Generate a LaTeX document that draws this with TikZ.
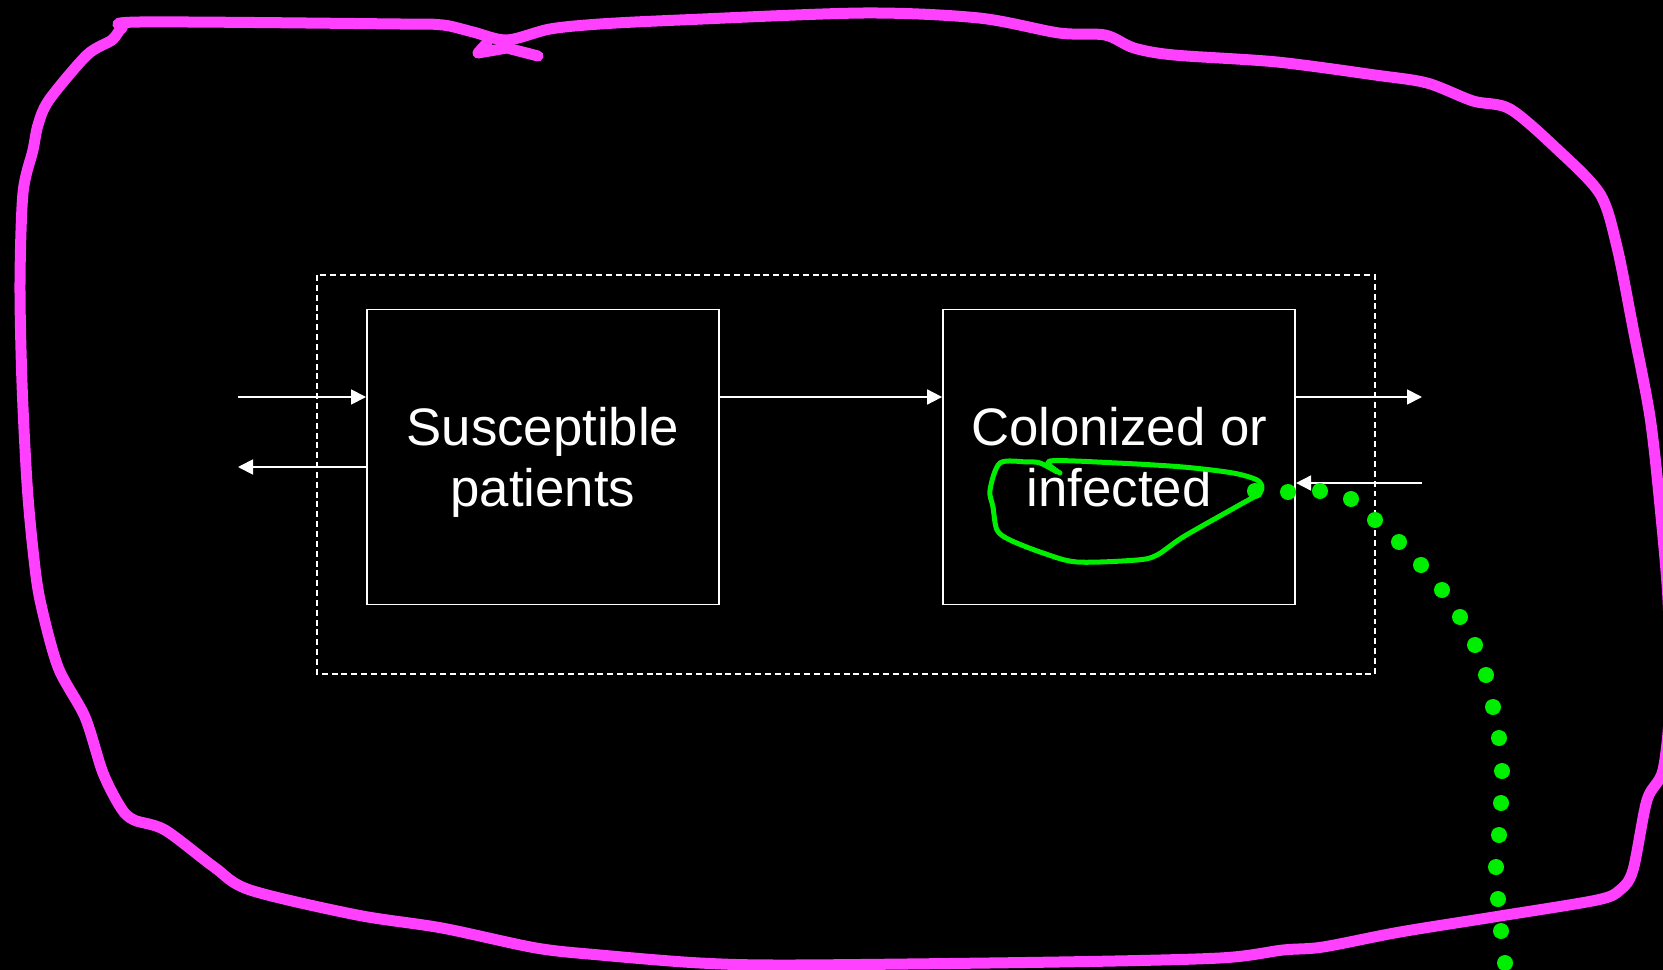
\documentclass[tikz,border=0pt]{standalone}
\usepackage{fontspec}
\setmainfont{Liberation Sans}
\usetikzlibrary{arrows.meta,positioning}
\definecolor{penpink}{RGB}{255,64,255}
\definecolor{pengreen}{RGB}{0,238,0}

\begin{document}
\begin{tikzpicture}[
        x=0.01cm, y=-0.01cm,
        box/.style={draw=white, line width=0.5pt, fill=black, text=white,
            align=center, inner sep=0pt, text depth=0pt,
            minimum width=3.52cm, minimum height=2.95cm,
            font=\fontsize{15}{17.5}\selectfont},
        flow/.style={draw=white, line width=0.5pt,
            -{Triangle[length=0.15cm,width=0.15cm]}},
        groupbox/.style={draw=white, line width=0.55pt,
            dash pattern=on 1.7pt off 1.1pt},
        pen/.style={draw=penpink, line width=0.11cm, line join=round, line cap=round},
        hilite/.style={draw=pengreen, line width=0.05cm, line join=round, line cap=round},
    ]
  \fill[black] (0,0) rectangle (1663,970);
  \useasboundingbox (0,0) rectangle (1663,970);

  \draw[groupbox] (317,275) rectangle (1375,674);
  \node[box] (sus) at (543,457) {Susceptible\\patients};
  \node[box, right=2.22cm of sus] (col) {Colonized or\\infected};

  \coordinate (inL) at (238,397);
  \coordinate (outL) at (238,467);
  \coordinate (outR) at (1422,397);
  \coordinate (inR) at (1422,483);

  \draw[flow] (inL) -- (inL -| sus.west);
  \draw[flow] (outL -| sus.west) -- (outL);
  \draw[flow] (inL -| sus.east) -- (inL -| col.west);
  \draw[flow] (outR -| col.east) -- (outR);
  \draw[flow] (inR) -- (inR -| col.east);

  % hand-drawn marks on top
  \draw[pen] plot[smooth cycle, tension=0.5] coordinates {
    (507,40) (550,29) (600,24) (680,20) (864,13) (979,18)
    (1059,33) (1105,35) (1134,48) (1174,55) (1277,62) (1375,75) (1427,83)
    (1473,101) (1510,109) (1557,149) (1600,194) (1617,247) (1633,328)
    (1650,417) (1660,506) (1668,600) (1670,700) (1663,770) (1647,800)
    (1633,870) (1620,890) (1597,900) (1500,916) (1400,932) (1323,947)
    (1283,950) (1220,958) (1059,962) (795,965) (700,963) (600,955) (536,948)
    (442,928) (357,915) (250,890) (214,867) (165,830) (134,820) (121,808)
    (103,773) (85,717) (58,667) (40,600) (33,550) (27,483) (22,383) (20,283)
    (23,193) (33,150) (38,125) (49,100) (87,55) (112,40) (122,28) (140,22)
    (400,24) (443,25) (473,32)};
  \draw[pen] (538,56) -- (507,48) -- (478,53) -- (487,43);

  \draw[hilite] plot[smooth, tension=0.5] coordinates {
    (1060,473) (1050,461) (1117,463) (1183,467) (1233,473) (1257,480)
    (1262,488) (1257,495) (1243,503) (1227,512) (1183,537) (1157,555)
    (1137,560) (1077,562) (1043,553) (1010,540) (997,530) (993,507)
    (990,490) (1000,463) (1027,462) (1040,463) (1057,472)};

  \foreach \p in {(1255,491),(1288,492),(1320,491),(1351,499),(1375,520),
      (1399,542),(1421,565),(1442,590),(1460,617),(1475,645),(1486,675),
      (1493,707),(1499,738),(1502,771),(1501,803),(1499,835),(1496,867),
      (1498,899),(1501,931),(1505,963)}
    \fill[pengreen] \p circle[radius=0.08cm];
\end{tikzpicture}
\end{document}
